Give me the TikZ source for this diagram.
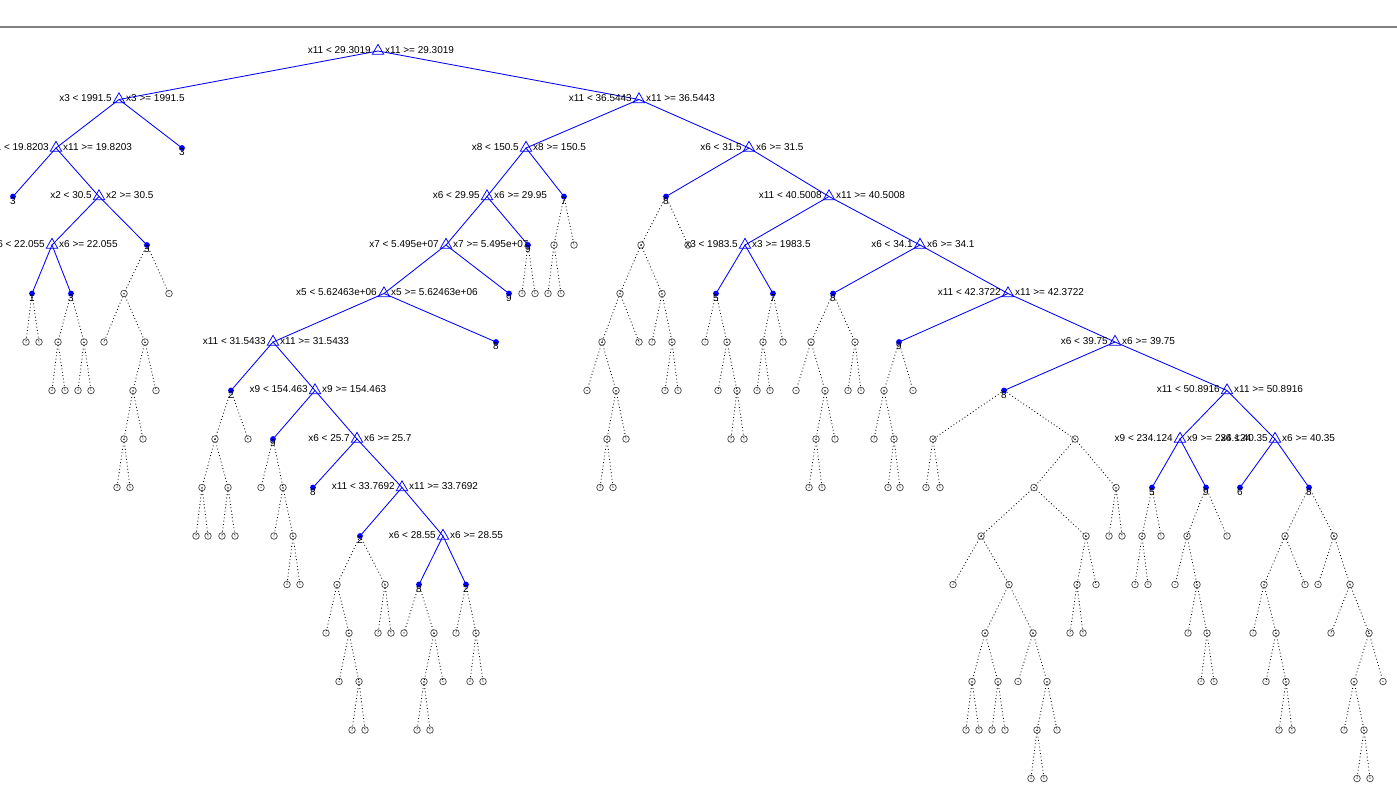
\documentclass[tikz,border=0pt]{standalone}
\usepackage{fontspec}
\setmainfont{Liberation Sans}
\usetikzlibrary{shapes.geometric}
\pgfdeclarelayer{bg}
\pgfsetlayers{bg,main}
\tikzset{
  tri/.style={regular polygon, regular polygon sides=3, draw=blue, line width=0.75pt, minimum size=13.3pt, inner sep=0pt},
  leaf/.style={circle, fill=blue, minimum size=5.8pt, inner sep=0pt},
  pr/.style={circle, draw=black!70, line width=0.75pt, minimum size=6.6pt, inner sep=0pt,
    path picture={\fill[black!65] (path picture bounding box.center) circle (0.6pt);}},
  lbl/.style={font=\fontsize{10}{12}\selectfont, inner sep=0pt, text=black},
  act/.style={blue, line width=0.85pt},
  ina/.style={black, line width=0.85pt, dash pattern=on 0.85pt off 2.5pt},
  topline/.style={draw=black!50, line width=2pt},
}
% split node: name, x, level, left text, right text
\newcommand\SN[5]{%
  \node[tri] (#1) at (#2,{51+48.5*#3}) {};
  \node[lbl,anchor=east] (#1-l) at ({#2-7},{49.7+48.5*#3}) {#4};
  \node[lbl,anchor=west] (#1-r) at ({#2+7},{49.7+48.5*#3}) {#5};}
% leaf: name, x, level, class
\newcommand\LF[4]{%
  \node[leaf] (#1) at (#2,{51+48.5*#3}) {};
  \node[lbl,anchor=north] (#1-t) at (#2,{51.5+48.5*#3}) {#4};}
\begin{document}
\begin{tikzpicture}[x=1pt,y=-1pt]
\useasboundingbox (0,0) rectangle (1397,804);
\clip (0,0) rectangle (1397,804);
\coordinate (tl) at (0,27);
\coordinate (tr) at (1397,27);
\draw[topline] (tl) -- (tr);
% split nodes
\SN{n0-378}{378}{0}{x11 < 29.3019}{x11 >= 29.3019}
\SN{n1-119}{119}{1}{x3 < 1991.5}{x3 >= 1991.5}
\SN{n1-639}{639}{1}{x11 < 36.5443}{x11 >= 36.5443}
\SN{n2-56}{56}{2}{x11 < 19.8203}{x11 >= 19.8203}
\SN{n2-526}{526}{2}{x8 < 150.5}{x8 >= 150.5}
\SN{n2-749}{749}{2}{x6 < 31.5}{x6 >= 31.5}
\SN{n3-99}{99}{3}{x2 < 30.5}{x2 >= 30.5}
\SN{n3-487}{487}{3}{x6 < 29.95}{x6 >= 29.95}
\SN{n3-829}{829}{3}{x11 < 40.5008}{x11 >= 40.5008}
\SN{n4-52}{52}{4}{x6 < 22.055}{x6 >= 22.055}
\SN{n4-446}{446}{4}{x7 < 5.495e+07}{x7 >= 5.495e+07}
\SN{n4-745}{745}{4}{x3 < 1983.5}{x3 >= 1983.5}
\SN{n4-920}{920}{4}{x6 < 34.1}{x6 >= 34.1}
\SN{n5-384}{384}{5}{x5 < 5.62463e+06}{x5 >= 5.62463e+06}
\SN{n5-1008}{1008}{5}{x11 < 42.3722}{x11 >= 42.3722}
\SN{n6-273}{273}{6}{x11 < 31.5433}{x11 >= 31.5433}
\SN{n6-1115}{1115}{6}{x6 < 39.75}{x6 >= 39.75}
\SN{n7-315}{315}{7}{x9 < 154.463}{x9 >= 154.463}
\SN{n7-1227}{1227}{7}{x11 < 50.8916}{x11 >= 50.8916}
\SN{n8-357}{357}{8}{x6 < 25.7}{x6 >= 25.7}
\SN{n8-1180}{1180}{8}{x9 < 234.124}{x9 >= 234.124}
\SN{n8-1275}{1275}{8}{x6 < 40.35}{x6 >= 40.35}
\SN{n9-402}{402}{9}{x11 < 33.7692}{x11 >= 33.7692}
\SN{n10-443}{443}{10}{x6 < 28.55}{x6 >= 28.55}
% leaves
\LF{n2-182}{182}{2}{3}
\LF{n3-13}{13}{3}{3}
\LF{n3-564}{564}{3}{7}
\LF{n3-666}{666}{3}{8}
\LF{n4-147}{147}{4}{3}
\LF{n4-528}{528}{4}{9}
\LF{n5-32}{32}{5}{1}
\LF{n5-71}{71}{5}{3}
\LF{n5-509}{509}{5}{9}
\LF{n5-716}{716}{5}{5}
\LF{n5-773}{773}{5}{7}
\LF{n5-833}{833}{5}{8}
\LF{n6-496}{496}{6}{8}
\LF{n6-899}{899}{6}{9}
\LF{n7-231}{231}{7}{2}
\LF{n7-1004}{1004}{7}{8}
\LF{n8-273}{273}{8}{9}
\LF{n9-313}{313}{9}{8}
\LF{n9-1152}{1152}{9}{5}
\LF{n9-1206}{1206}{9}{9}
\LF{n9-1240}{1240}{9}{6}
\LF{n9-1309}{1309}{9}{8}
\LF{n10-360}{360}{10}{2}
\LF{n11-419}{419}{11}{8}
\LF{n11-466}{466}{11}{2}
% pruned nodes
\foreach \L/\xs in {
  4/{554,574,641,688},
  5/{124,169,522,535,548,561,620,662},
  6/{26,39,58,84,104,145,602,639,652,672,705,727,763,783,811,855},
  7/{52,65,78,91,133,156,587,616,665,678,718,737,757,770,796,825,848,861,884,913},
  8/{124,143,215,248,607,626,731,744,816,835,874,894,933,1075},
  9/{117,130,202,228,261,283,600,613,809,822,888,900,926,940,1034,1116},
  10/{196,208,222,235,274,293,981,1086,1109,1122,1142,1161,1187,1227,1285,1334},
  11/{287,300,337,385,953,1009,1077,1096,1135,1148,1175,1197,1264,1305,1318,1350},
  12/{326,349,378,391,404,434,456,476,985,1033,1070,1083,1188,1207,1253,1276,1331,1369},
  13/{339,359,424,443,470,483,972,998,1018,1047,1201,1214,1266,1286,1354,1383},
  14/{352,365,417,430,966,979,992,1005,1037,1057,1279,1292,1344,1364},
  15/{1031,1044,1357,1370}}
  {\foreach \x in \xs {\node[pr] (n\L-\x) at (\x,{51+48.5*\L}) {};}}
\begin{pgfonlayer}{bg}
% active branches
\foreach \p/\a/\b in {
  0-378/1-119/1-639, 1-119/2-56/2-182, 1-639/2-526/2-749,
  2-56/3-13/3-99, 2-526/3-487/3-564, 2-749/3-666/3-829,
  3-99/4-52/4-147, 3-487/4-446/4-528, 3-829/4-745/4-920,
  4-52/5-32/5-71, 4-446/5-384/5-509, 4-745/5-716/5-773, 4-920/5-833/5-1008,
  5-384/6-273/6-496, 5-1008/6-899/6-1115,
  6-273/7-231/7-315, 6-1115/7-1004/7-1227,
  7-315/8-273/8-357, 7-1227/8-1180/8-1275,
  8-357/9-313/9-402, 8-1180/9-1152/9-1206, 8-1275/9-1240/9-1309,
  9-402/10-360/10-443, 10-443/11-419/11-466}
  {\draw[act] (n\a.center) -- (n\p.center) -- (n\b.center);}
% pruned branches
\foreach \p/\a/\b in {
  4-147/5-124/5-169, 3-564/4-554/4-574, 4-528/5-522/5-535, 4-554/5-548/5-561,
  3-666/4-641/4-688, 4-641/5-620/5-662,
  5-32/6-26/6-39, 5-71/6-58/6-84, 5-124/6-104/6-145, 5-620/6-602/6-639,
  5-662/6-652/6-672, 5-716/6-705/6-727, 5-773/6-763/6-783, 5-833/6-811/6-855,
  6-58/7-52/7-65, 6-84/7-78/7-91, 6-145/7-133/7-156, 6-602/7-587/7-616,
  6-672/7-665/7-678, 6-727/7-718/7-737, 6-763/7-757/7-770, 6-811/7-796/7-825,
  6-855/7-848/7-861, 6-899/7-884/7-913,
  7-133/8-124/8-143, 7-231/8-215/8-248, 7-616/8-607/8-626, 7-737/8-731/8-744,
  7-825/8-816/8-835, 7-884/8-874/8-894, 7-1004/8-933/8-1075,
  8-124/9-117/9-130, 8-215/9-202/9-228, 8-273/9-261/9-283, 8-607/9-600/9-613,
  8-816/9-809/9-822, 8-894/9-888/9-900, 8-933/9-926/9-940, 8-1075/9-1034/9-1116,
  9-202/10-196/10-208, 9-228/10-222/10-235, 9-283/10-274/10-293,
  9-1034/10-981/10-1086, 9-1116/10-1109/10-1122, 9-1152/10-1142/10-1161,
  9-1206/10-1187/10-1227, 9-1309/10-1285/10-1334,
  10-293/11-287/11-300, 10-360/11-337/11-385, 10-981/11-953/11-1009,
  10-1086/11-1077/11-1096, 10-1142/11-1135/11-1148, 10-1187/11-1175/11-1197,
  10-1285/11-1264/11-1305, 10-1334/11-1318/11-1350,
  11-337/12-326/12-349, 11-385/12-378/12-391, 11-419/12-404/12-434,
  11-466/12-456/12-476, 11-1009/12-985/12-1033, 11-1077/12-1070/12-1083,
  11-1197/12-1188/12-1207, 11-1264/12-1253/12-1276, 11-1350/12-1331/12-1369,
  12-349/13-339/13-359, 12-434/13-424/13-443, 12-476/13-470/13-483,
  12-985/13-972/13-998, 12-1033/13-1018/13-1047, 12-1207/13-1201/13-1214,
  12-1276/13-1266/13-1286, 12-1369/13-1354/13-1383,
  13-359/14-352/14-365, 13-424/14-417/14-430, 13-972/14-966/14-979,
  13-998/14-992/14-1005, 13-1047/14-1037/14-1057, 13-1286/14-1279/14-1292,
  13-1354/14-1344/14-1364,
  14-1037/15-1031/15-1044, 14-1364/15-1357/15-1370}
  {\draw[ina] (n\p.center) -- (n\a.center); \draw[ina] (n\p.center) -- (n\b.center);}
\end{pgfonlayer}
\end{tikzpicture}
\end{document}
